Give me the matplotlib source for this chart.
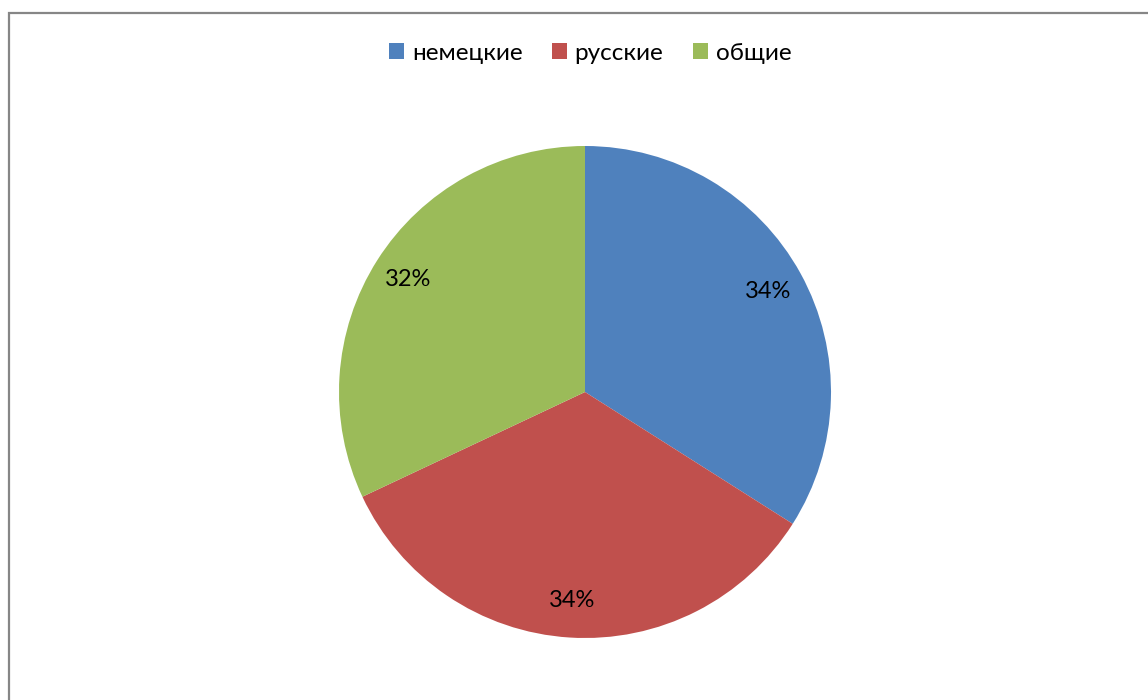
from matplotlib import pyplot as plt
from matplotlib.patches import Rectangle

categories = ["немецкие", "русские", "общие"]
shares = [34, 34, 32]
colors_picker = ["#4F81BD", "#C0504D", "#9BBB59"]

plt.rcParams['font.family'] = ['Lato', 'DejaVu Sans']

fig = plt.figure(figsize=(11.48, 7.0), dpi=100)
fig.patch.set_facecolor('white')

# рамка области диаграммы
fig.patches.append(Rectangle((9 / 1148, -0.1), 1.2, (700 - 13) / 700 + 0.1,
                             transform=fig.transFigure, fill=False,
                             edgecolor='#868686', linewidth=1.6))

ax = fig.add_axes([339 / 1148, 62 / 700, 492 / 1148, 492 / 700])
wedges, texts, autotexts = ax.pie(shares, colors=colors_picker, startangle=90,
                                  counterclock=False, autopct='%.0f%%',
                                  pctdistance=0.85,
                                  wedgeprops={'linewidth': 0},
                                  textprops={'fontsize': 17, 'color': 'black'})
ax.set_xlim(-1, 1)
ax.set_ylim(-1, 1)
ax.set_aspect('equal')

fig.legend(wedges, categories, loc='center', bbox_to_anchor=(590 / 1148, 1 - 53 / 700),
           ncol=3, frameon=False, fontsize=17.5, handlelength=0.65, handleheight=0.65,
           handletextpad=0.3, columnspacing=1.2)

fig.savefig('out.png', dpi=100)
